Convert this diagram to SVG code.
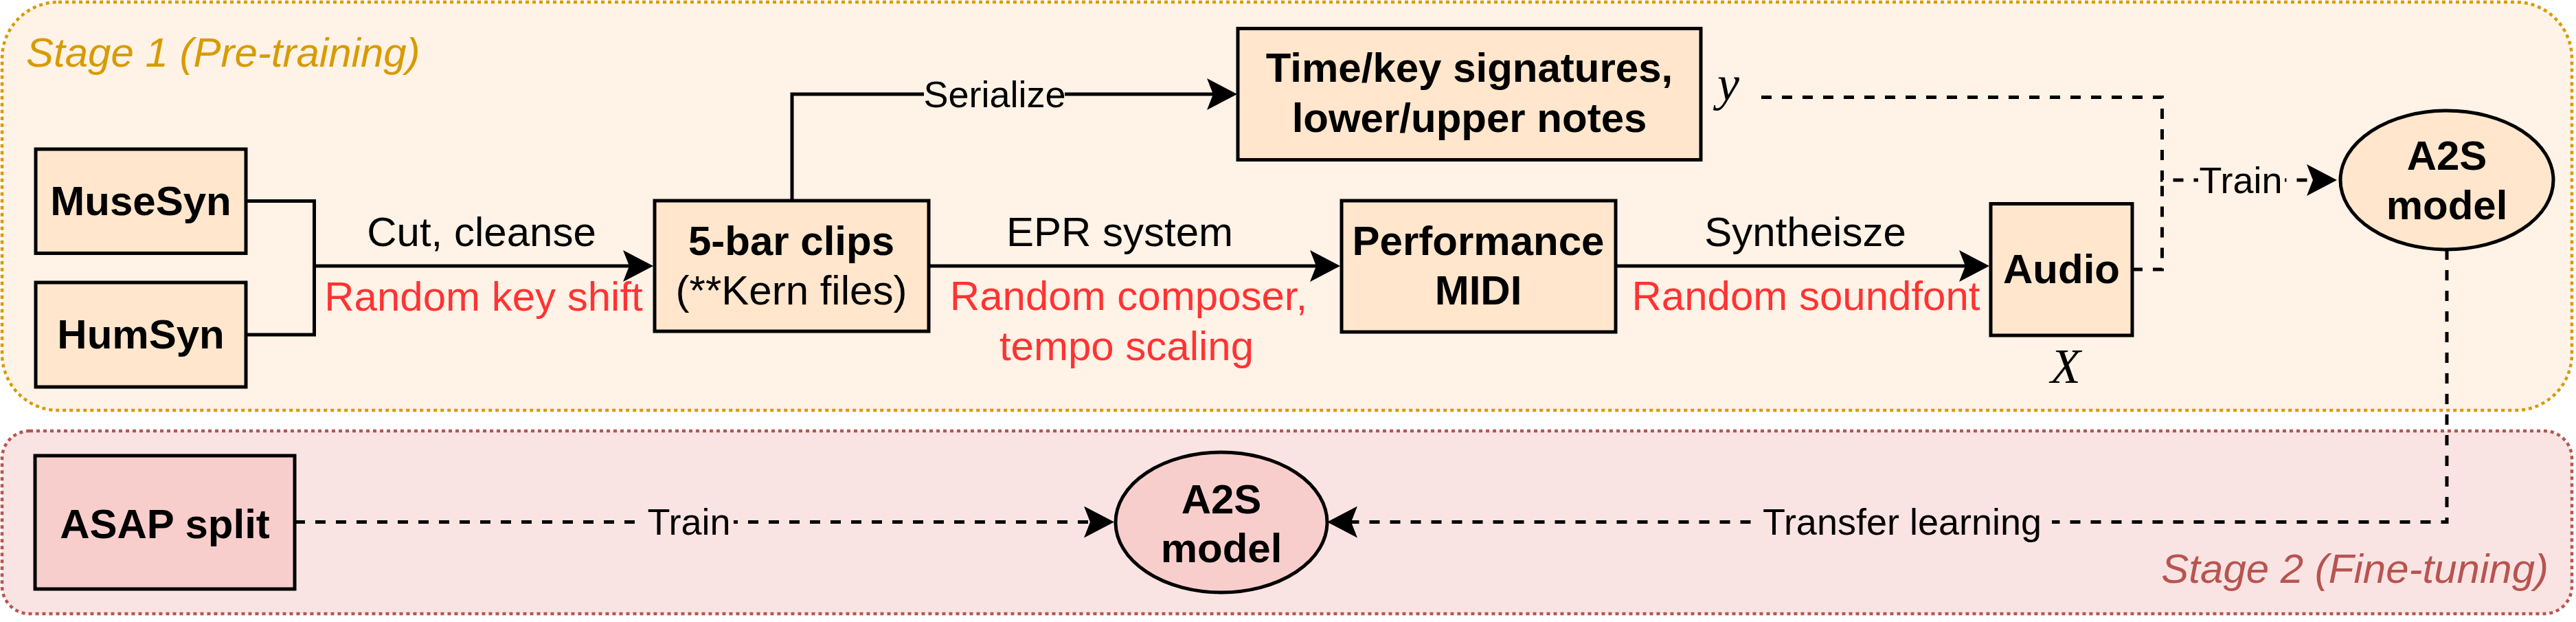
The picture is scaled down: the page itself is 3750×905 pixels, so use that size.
<svg xmlns="http://www.w3.org/2000/svg" width="3750" height="905" viewBox="0 0 3750 905">
<style>
text{font-family:"Liberation Sans",Arial,Helvetica,sans-serif;font-size:60px;fill:#000}
.b{font-weight:bold}
.m{text-anchor:middle}
.red{fill:#ff3333}
.el{font-size:54px}
.math{font-family:"Liberation Serif","Times New Roman",serif;font-style:italic;font-size:72px}
.box1{fill:#ffe6cc;stroke:#000;stroke-width:5}
.box2{fill:#f8cecc;stroke:#000;stroke-width:5}
.ln{fill:none;stroke:#000;stroke-width:5}
.dash{stroke-dasharray:15 15}
</style>
<defs>
<marker id="arr" markerUnits="userSpaceOnUse" viewBox="0 0 44 46" refX="10" refY="23" markerWidth="44" markerHeight="46" orient="auto">
<path d="M0,0 L44,23 L0,46 L9,23 Z" fill="#000"/>
</marker>
</defs>
<g id="stage1">
<rect x="3" y="3" width="3741" height="594" rx="82" ry="82" fill="#fff2e6" stroke="#d79b00" stroke-width="4.5" stroke-dasharray="5 5"/>
<text x="38" y="97" font-style="italic" fill="#d79b00" style="fill:#d79b00">Stage 1 (Pre-training)</text>
</g>
<g id="stage2">
<rect x="3" y="627" width="3741" height="266" rx="40" ry="40" fill="#f9e4e3" stroke="#b85450" stroke-width="4.5" stroke-dasharray="5 5"/>
<text x="3710" y="848" text-anchor="end" font-style="italic" style="fill:#b85450">Stage 2 (Fine-tuning)</text>
</g>
<g id="connectors">
<path class="ln" d="M358,292.5 H457.5 V387 H917" marker-end="url(#arr)"/>
<path class="ln" d="M358,487 H457.5 V387"/>
<path class="ln" d="M1153,292 V137 H1767" marker-end="url(#arr)"/>
<path class="ln" d="M1352,387 H1917" marker-end="url(#arr)"/>
<path class="ln" d="M2352,387 H2862" marker-end="url(#arr)"/>
<path class="ln dash" d="M2564,141.5 H3147.5 V262 H3368" marker-end="url(#arr)"/>
<path class="ln dash" d="M3104,392 H3147.5 V262"/>
<path class="ln dash" d="M3562,363 V759.5 H1966" marker-end="url(#arr)"/>
<path class="ln dash" d="M429,759.5 H1588" marker-end="url(#arr)"/>
<rect x="1345" y="112" width="205" height="52" fill="#fff2e6"/>
<text class="el m" x="1448" y="156">Serialize</text>
<rect x="3200" y="236" width="126" height="52" fill="#fff2e6"/>
<text class="el m" x="3262" y="281">Train</text>
<rect x="938" y="734" width="130" height="52" fill="#f9e4e3"/>
<text class="el m" x="1003" y="778">Train</text>
<rect x="2551" y="734" width="436" height="52" fill="#f9e4e3"/>
<text class="el m" x="2769" y="778">Transfer learning</text>
<text class="m" x="701" y="358">Cut, cleanse</text>
<text class="m red" x="704" y="452">Random key shift</text>
<text class="m" x="1630" y="358">EPR system</text>
<text class="m red" x="1643" y="451">Random composer,</text>
<text class="m red" x="1640" y="524">tempo scaling</text>
<text class="m" x="2628" y="358">Syntheisze</text>
<text class="m red" x="2629" y="451">Random soundfont</text>
</g>
<g id="musesyn">
<rect class="box1" x="52" y="217" width="306" height="151.5"/>
<text class="b m" x="205" y="313">MuseSyn</text>
</g>
<g id="humsyn">
<rect class="box1" x="52" y="411" width="306" height="152"/>
<text class="b m" x="205" y="507">HumSyn</text>
</g>
<g id="clips">
<rect class="box1" x="953" y="292" width="399" height="190"/>
<text class="b m" x="1152" y="371">5-bar clips</text>
<text class="m" x="1152" y="443">(**Kern files)</text>
</g>
<g id="signatures">
<rect class="box1" x="1802" y="41.5" width="674" height="191"/>
<text class="b m" x="2139" y="119">Time/key signatures,</text>
<text class="b m" x="2139" y="192">lower/upper notes</text>
</g>
<g id="y-label">
<text class="math" x="2500" y="146">y</text>
</g>
<g id="midi">
<rect class="box1" x="1953" y="292" width="399" height="191"/>
<text class="b m" x="2152" y="371">Performance</text>
<text class="b m" x="2152" y="443">MIDI</text>
</g>
<g id="audio">
<rect class="box1" x="2898" y="296.5" width="206" height="191.5"/>
<text class="b m" x="3001" y="412">Audio</text>
</g>
<g id="x-label">
<text class="math m" x="3007" y="557">X</text>
</g>
<g id="a2s1">
<ellipse class="box1" cx="3562" cy="262" rx="155" ry="101"/>
<text class="b m" x="3562" y="247">A2S</text>
<text class="b m" x="3562" y="319">model</text>
</g>
<g id="asap">
<rect class="box2" x="51" y="663" width="378" height="194"/>
<text class="b m" x="240" y="783">ASAP split</text>
</g>
<g id="a2s2">
<ellipse class="box2" cx="1778" cy="760" rx="154" ry="102"/>
<text class="b m" x="1778" y="747">A2S</text>
<text class="b m" x="1778" y="818">model</text>
</g>
</svg>
